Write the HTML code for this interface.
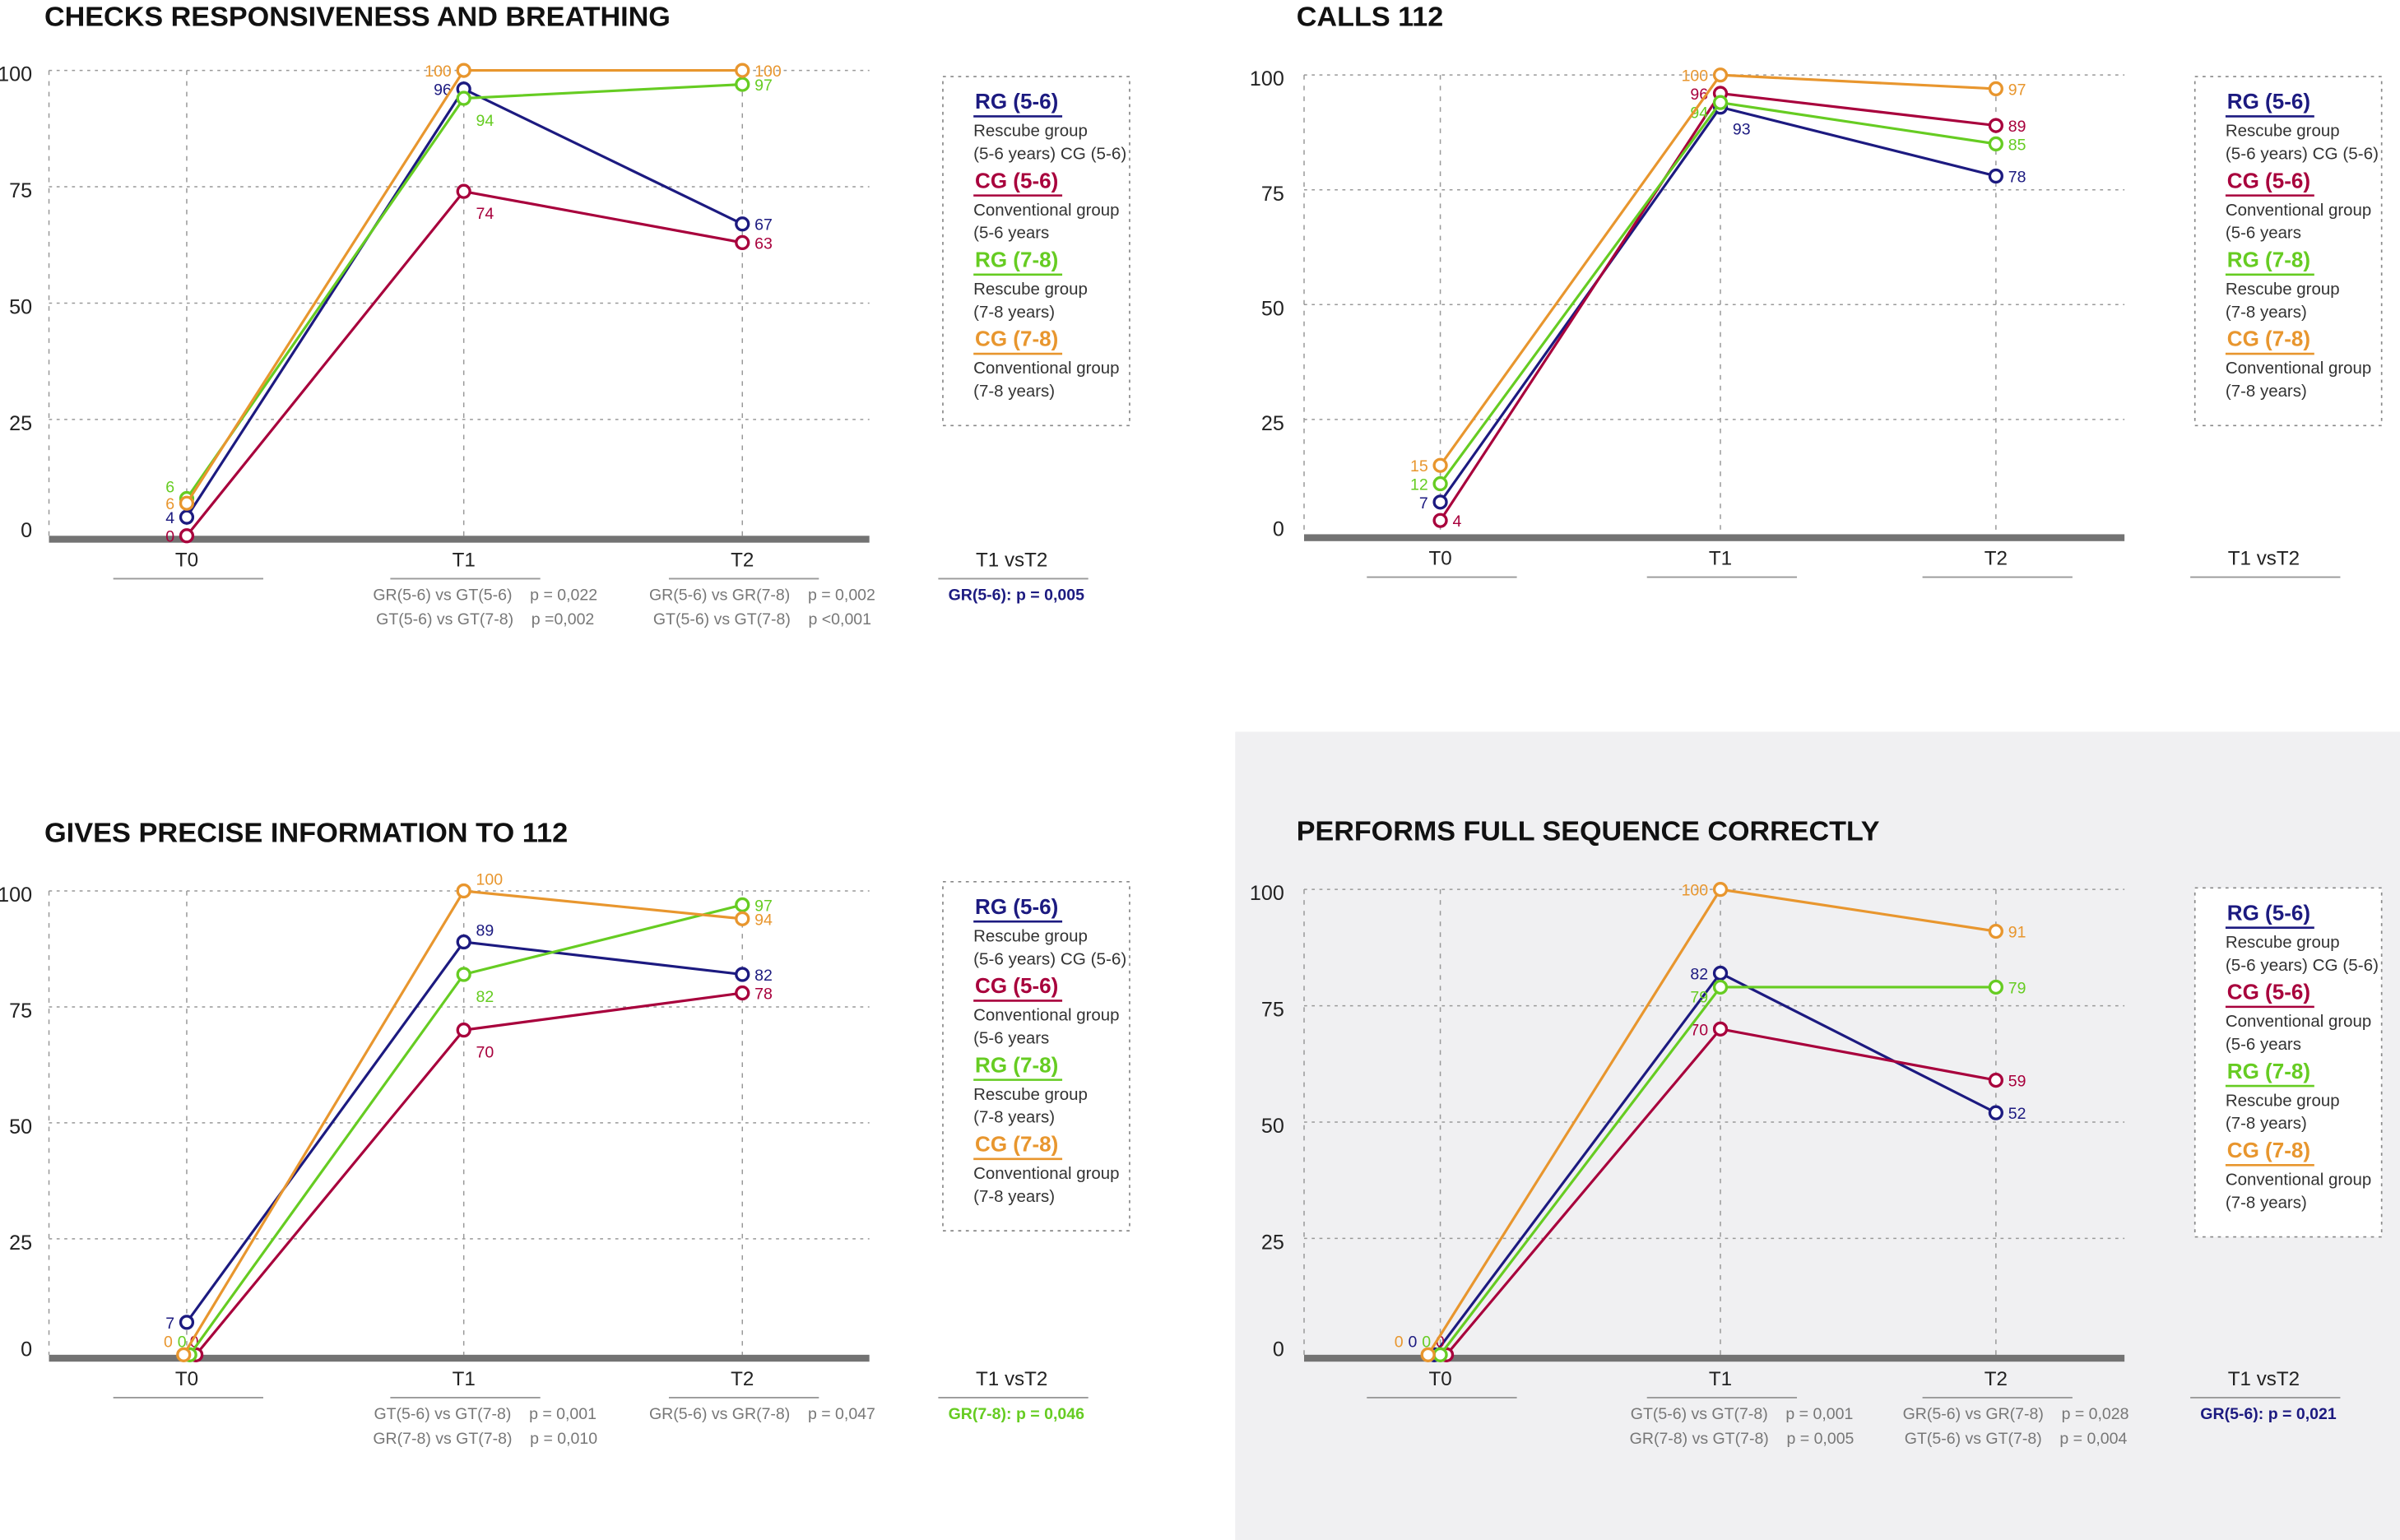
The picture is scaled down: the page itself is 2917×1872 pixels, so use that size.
<!DOCTYPE html>
<html><head><meta charset="utf-8"><style>
html,body{margin:0;padding:0;background:#fff}
svg{display:block}
text{font-family:"Liberation Sans",sans-serif}
.pre{white-space:pre}
</style></head><body>
<svg id="root" width="2917" height="1872" viewBox="0 0 1568 1006" preserveAspectRatio="none" xmlns="http://www.w3.org/2000/svg">
<rect x="807" y="478" width="761" height="528" fill="#f0f0f2"/>
</svg>
<script>
const seriesNames=['RG (5-6)','CG (5-6)','RG (7-8)','CG (7-8)'];
const seriesColors=['#1c1a80','#a8003c','#66cc22','#e8962e'];
const timeLabels=['T0','T1','T2'];
const yTicks=[0,25,50,75,100];
// chart 1
const c1RG56=[4,96,67], c1CG56=[0,74,63], c1RG78=[8,94,97], c1CG78=[7,100,100];
const c1Labels=[['4','96','67'],['0','74','63'],['6','94','97'],['6','100','100']];
// chart 2
const c2RG56=[7,93,78], c2CG56=[3,96,89], c2RG78=[11,94,85], c2CG78=[15,100,97];
const c2Labels=[['7','93','78'],['4','96','89'],['12','94','85'],['15','100','97']];
// chart 3
const c3RG56=[7,89,82], c3CG56=[0,70,78], c3RG78=[0,82,97], c3CG78=[0,100,94];
const c3Labels=[['7','89','82'],['0','70','78'],['0','82','97'],['0','100','94']];
// chart 4
const c4RG56=[0,82,52], c4CG56=[0,70,59], c4RG78=[0,79,79], c4CG78=[0,100,91];
const c4Labels=[['0','82','52'],['0','70','59'],['0','79','79'],['0','100','91']];

const NS='http://www.w3.org/2000/svg';
const root=document.getElementById('root');
function mk(tag,attrs,parent,txt){const e=document.createElementNS(NS,tag);for(const k in attrs)e.setAttribute(k,attrs[k]);if(txt!==undefined)e.textContent=txt;(parent||root).appendChild(e);return e;}

const charts=[
 {title:'CHECKS RESPONSIVENESS AND BREATHING',tw:409,ox:0,ty:17,y100:46,y0:350,xs:[122,303,485],left:32,right:568,
  data:[c1RG56,c1CG56,c1RG78,c1CG78],labels:c1Labels,t0dx:[0,0,0,0],
  place:[['L','L','R'],['L','RD','R'],['LU','RD','R'],['L','L','R']],
  p1:['GR(5-6) vs GT(5-6)    p = 0,022','GT(5-6) vs GT(7-8)    p =0,002'],
  p2:['GR(5-6) vs GR(7-8)    p = 0,002','GT(5-6) vs GT(7-8)    p <0,001'],p3:'GR(5-6): p = 0,005',p3c:'#1c1a80',lg:50},
 {title:'CALLS 112',tw:96,ox:818,ty:17,y100:49,y0:349,xs:[941,1124,1304],left:852,right:1388,
  data:[c2RG56,c2CG56,c2RG78,c2CG78],labels:c2Labels,t0dx:[0,0,0,0],
  place:[['L','RD','R'],['R','L','R'],['L','LD','R'],['L','L','R']],
  p1:null,p2:null,p3:null,lg:50},
 {title:'GIVES PRECISE INFORMATION TO 112',tw:342,ox:0,ty:550,y100:582,y0:885,xs:[122,303,485],left:32,right:568,
  data:[c3RG56,c3CG56,c3RG78,c3CG78],labels:c3Labels,t0dx:[0,6,2,-2],
  place:[['L','RU','R'],['ZL','RD','R'],['ZL','RD','R'],['ZL','RU','R']],zx:[0,124,116,107],
  p1:['GT(5-6) vs GT(7-8)    p = 0,001','GR(7-8) vs GT(7-8)    p = 0,010'],
  p2:['GR(5-6) vs GR(7-8)    p = 0,047'],p3:'GR(7-8): p = 0,046',p3c:'#66cc22',lg:576},
 {title:'PERFORMS FULL SEQUENCE CORRECTLY',tw:381,ox:818,ty:549,y100:581,y0:885,xs:[941,1124,1304],left:852,right:1388,
  data:[c4RG56,c4CG56,c4RG78,c4CG78],labels:c4Labels,t0dx:[-4,4,0,-8],
  place:[['ZL','L','R'],['ZL','L','R'],['ZL','LD','R'],['ZL','L','R']],zx:[920,938,929,911],
  p1:['GT(5-6) vs GT(7-8)    p = 0,001','GR(7-8) vs GT(7-8)    p = 0,005'],
  p2:['GR(5-6) vs GR(7-8)    p = 0,028','GT(5-6) vs GT(7-8)    p = 0,004'],p3:'GR(5-6): p = 0,021',p3c:'#1c1a80',lg:580}
];

charts.forEach((c,ci)=>{
 const g=mk('g',{});
 
 
 const y=v=>c.y0-v*(c.y0-c.y100)/100;
 const t=mk('text',{x:c.ox+29,y:c.ty,'font-size':18,'font-weight':'bold',textLength:c.tw,lengthAdjust:'spacingAndGlyphs',fill:'#111'},g,c.title);
 
 
 yTicks.forEach(v=>{
  if(v>0){const l=mk('line',{x1:c.left,x2:c.right,y1:y(v),y2:y(v),stroke:'#999','stroke-width':0.8,'stroke-dasharray':'2,3'},g);
   
   }
  const tl=mk('text',{x:c.ox+21,y:y(v)+(v===0?1:7),'font-size':13.5,'text-anchor':'end',fill:'#222'},g,v);
  
  
 });
 [c.left].concat(c.xs).forEach(x=>{
  const l=mk('line',{x1:x,x2:x,y1:c.y100,y2:c.y0,stroke:'#999','stroke-width':0.8,'stroke-dasharray':'3,4'},g);
  
  
 });
 const ax=mk('rect',{x:c.left,y:c.y0,width:c.right-c.left,height:4.5,fill:'#737373'},g);
 
 
 const cats=timeLabels.concat(['T1 vsT2']);
 const cx=c.xs.concat([c.ox+661]);
 cats.forEach((s,i)=>{
  const tx=mk('text',{x:cx[i],y:c.y0+20,'font-size':13,'text-anchor':'middle',fill:'#222'},g,s);
  
  
  const ul=mk('line',{x1:cx[i]-48,x2:cx[i]+50,y1:c.y0+28,y2:c.y0+28,stroke:'#999','stroke-width':1},g);
  
  
 });
 const pt=(lines,x)=>{ if(!lines)return; lines.forEach((s,i)=>{
  const e=mk('text',{x:x,y:c.y0+42+i*16,'font-size':10.5,'text-anchor':'middle',fill:'#777','class':'pre'},g,s);
  
  });};
 pt(c.p1,c.xs[1]+14); pt(c.p2,c.xs[2]+13);
 if(c.p3){const e=mk('text',{x:c.ox+664,y:c.y0+42,'font-size':10.5,'font-weight':'bold','text-anchor':'middle',fill:c.p3c},g,c.p3);
  
  }
 c.data.forEach((vals,si)=>{
  const col=seriesColors[si];
  const sg=mk('g',{},g);
  
  
  const px=i=>c.xs[i]+(i===0?c.t0dx[si]:0);
  const ptsStr=vals.map((v,i)=>px(i)+','+y(v)).join(' ');
  const pl=mk('polyline',{points:ptsStr,fill:'none',stroke:col,'stroke-width':1.7},sg);
  
  
  vals.forEach((v,i)=>{
   const ci2=mk('circle',{cx:px(i),cy:y(v),r:4,fill:'#fff',stroke:col,'stroke-width':1.8},sg);
   
   
   const p=c.place[si][i];
   let lx=px(i),ly=y(v)+4,anc='start';
   if(p==='ZL'){lx=c.zx[si];ly=c.y0-5;anc='start';}
   else if(p[0]==='L'){lx-=8;anc='end';} else if(p[0]==='R'){lx+=8;}
   if(p==='LD'){ly+=6;}
   else if(p[1]==='U')ly-=8; else if(p[1]==='D')ly+=14;
   const lt=mk('text',{x:lx,y:ly,'font-size':10.5,'text-anchor':anc,fill:col},sg,c.labels[si][i]);
   
   
  });
 });
 const lx0=c.ox+616, ly0=c.lg;
 const lb=mk('rect',{x:lx0,y:ly0,width:122,height:228,fill:'#fff',stroke:'#888','stroke-width':0.9,'stroke-dasharray':'2,3'},g);
 
 
 const desc=[['Rescube group','(5-6 years) CG (5-6)'],['Conventional group','(5-6 years'],['Rescube group','(7-8 years)'],['Conventional group','(7-8 years)']];
 seriesNames.forEach((n,si)=>{
  const base=ly0+21+si*51.7;
  const le=mk('g',{},g);
  
  
  mk('text',{x:lx0+21,y:base,'font-size':14,'font-weight':'bold',fill:seriesColors[si]},le,n);
  mk('line',{x1:lx0+20,x2:lx0+78,y1:base+5,y2:base+5,stroke:seriesColors[si],'stroke-width':1.4},le);
  mk('text',{x:lx0+20,y:base+18,'font-size':11,fill:'#333'},le,desc[si][0]);
  const d2=mk('text',{x:lx0+20,y:base+33,'font-size':11,fill:'#333'},le,desc[si][1]);
  if(desc[si][1].length>15){d2.setAttribute('textLength',100);d2.setAttribute('lengthAdjust','spacingAndGlyphs');}
 });
});
</script>
</body></html>
